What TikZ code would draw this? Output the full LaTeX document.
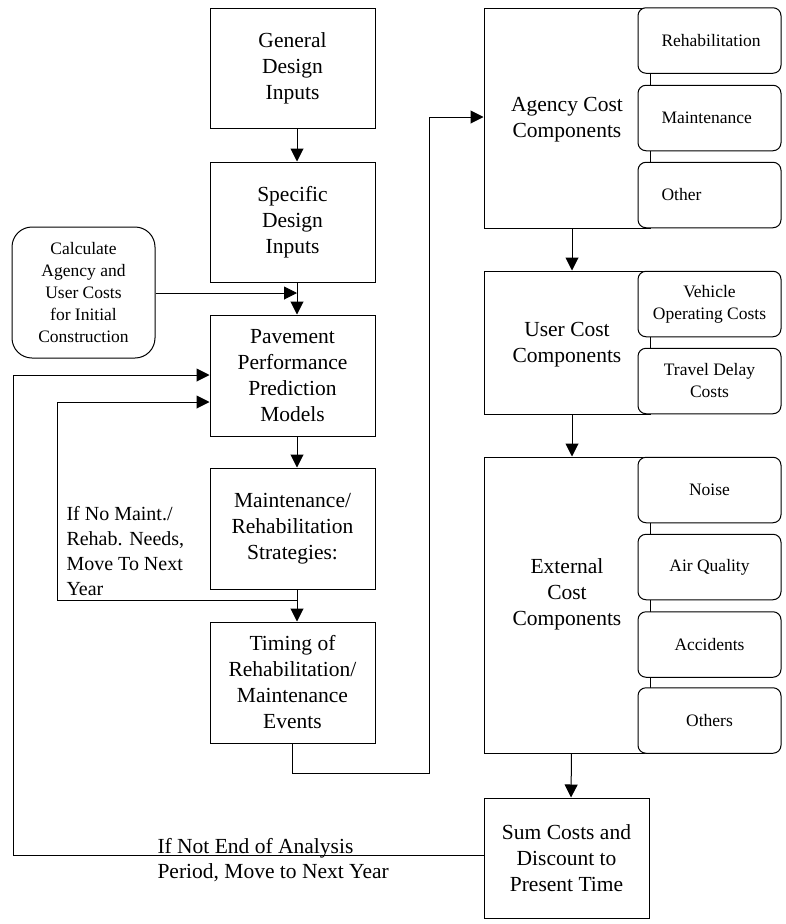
\documentclass[tikz,border=0pt]{standalone}
\usepackage{fontspec}
\setmainfont{Liberation Serif}
\usetikzlibrary{arrows.meta}
\begin{document}
\begin{tikzpicture}[x=1pt,y=-1pt,line width=1pt,
  arr/.style={-{Triangle[length=13pt,width=13pt]}},
  bigfont/.style={font=\fontsize{21.5}{26}\selectfont},
  smallfont/.style={font=\fontsize{17.5}{22}\selectfont},
  mainbox/.style={draw, minimum width=165pt, minimum height=120pt, inner sep=0pt, align=center, bigfont},
  groupbox/.style={draw, minimum width=166pt, inner sep=0pt},
  bigtxt/.style={inner sep=0pt, align=center, bigfont},
  subbox/.style={draw, fill=white, rounded corners=8pt, minimum width=143pt, minimum height=65.5pt, inner sep=0pt, align=center, smallfont},
  lbl/.style={inner sep=0pt, align=left}
]
\useasboundingbox (0,0) rectangle (785,924);

% left column
\node[mainbox] (gen) at (292.5,68) {General\\Design\\Inputs};
\node[mainbox] (spec) at (292.5,222) {Specific\\Design\\Inputs};
\node[mainbox, minimum height=121pt] (pav) at (292.5,375.5) {Pavement\\Performance\\Prediction\\Models};
\node[mainbox, minimum height=121pt] (mrs) at (292.5,528.5) {Maintenance/\\Rehabilitation\\Strategies:};
\node[mainbox, minimum height=121pt] (tim) at (292.5,682.5) {Timing of\\Rehabilitation/\\Maintenance\\Events};
\node[mainbox] (sum) at (566.5,858) {Sum Costs and\\Discount to\\Present Time};

\node[draw, rounded corners=20pt, minimum width=143pt, minimum height=131pt, inner sep=0pt, align=center, smallfont] (calc) at (83.5,292.5) {Calculate\\Agency and\\User Costs\\for Initial\\Construction};

% right column groups
\node[groupbox, minimum height=220pt] (ag) at (567,118) {};
\node[groupbox, minimum height=143pt] (us) at (567,342.5) {};
\node[groupbox, minimum height=296pt] (ex) at (567,605) {};
\node[bigtxt] (agt) at (567,120) {Agency Cost\\Components};
\node[bigtxt] (ust) at (567,345) {User Cost\\Components};
\node[bigtxt] (ext) at (567,594) {External\\Cost\\Components};

\node[subbox, text width=96pt, align=left] (s1) at (709.5,40.5) {Rehabilitation};
\node[subbox, text width=96pt, align=left] (s2) at (709.5,118) {Maintenance};
\node[subbox, text width=96pt, align=left] (s3) at (709.5,195) {Other};
\node[subbox] (s4) at (709.5,304) {Vehicle\\Operating Costs};
\node[subbox] (s5) at (709.5,381) {Travel Delay\\Costs};
\node[subbox] (s6) at (709.5,490) {Noise};
\node[subbox] (s7) at (709.5,567) {Air Quality};
\node[subbox] (s8) at (709.5,644.5) {Accidents};
\node[subbox] (s9) at (709.5,720.5) {Others};

% labels
\node[lbl, anchor=west, font=\fontsize{20}{24.7}\selectfont] (nlab) at (66,551) {If No Maint./\\Rehab. Needs,\\Move To Next\\Year};
\node[lbl, anchor=west, font=\fontsize{21.5}{25}\selectfont] (elab) at (157,860) {If Not End of Analysis\\Period, Move to Next Year};

% main spine arrows
\draw[arr] ([xshift=4.5pt]gen.south) -- ([xshift=4.5pt]spec.north);
\draw[arr] ([xshift=4.5pt]spec.south) -- ([xshift=4.5pt]pav.north);
\draw[arr] ([xshift=4.5pt]pav.south) -- ([xshift=4.5pt]mrs.north);
\draw[arr] ([xshift=4.5pt]mrs.south) -- ([xshift=4.5pt]tim.north);

\coordinate (ca) at (297,293);
\draw[arr] (calc.east |- ca) -- (ca);

% right spine arrows
\draw[arr] ([xshift=5pt]ag.south) -- ([xshift=5pt]us.north);
\draw[arr] ([xshift=5pt]us.south) -- ([xshift=5pt]ex.north);
\draw[arr] ([xshift=4.5pt]ex.south) -- ([xshift=4.5pt]sum.north);

% timing to agency
\coordinate (t1) at (292.5,773);
\coordinate (t2) at (429,773);
\coordinate (t3) at (429,117);
\draw[arr] (tim.south) -- (t1) -- (t2) -- (t3) -- (ag.west |- t3);

% inner loop
\coordinate (j) at (297,600);
\coordinate (li1) at (57,600);
\coordinate (li2) at (57,402);
\draw[arr] (j) -- (li1) -- (li2) -- (pav.west |- li2);

% outer loop
\coordinate (lo1) at (13,855);
\coordinate (lo2) at (13,375);
\draw[arr] (sum.west |- lo1) -- (lo1) -- (lo2) -- (pav.west |- lo2);
\end{tikzpicture}
\end{document}
